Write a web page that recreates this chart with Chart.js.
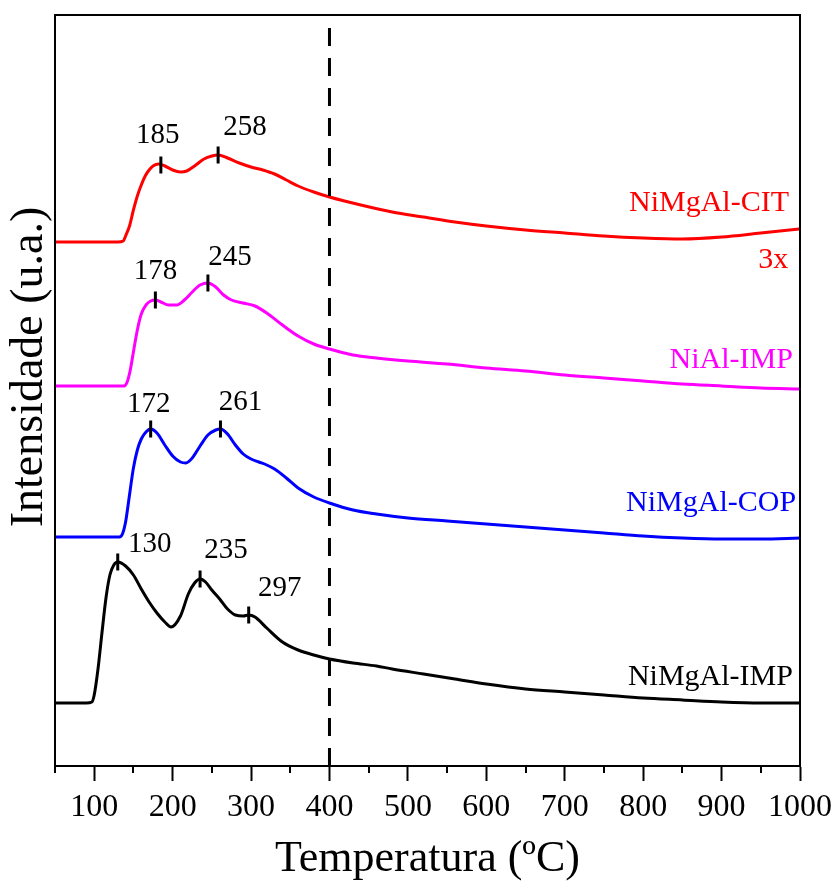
<!DOCTYPE html>
<html>
<head>
<meta charset="utf-8">
<script src="https://cdn.jsdelivr.net/npm/chart.js@4.4.1/dist/chart.umd.min.js"></script>
<style>
  html, body { margin: 0; padding: 0; background: #ffffff; }
  canvas { display: block; }
</style>
</head>
<body>
<canvas id="tpr" width="836" height="881"></canvas>
<script>
// H2-TPR profiles (intensity in arbitrary units, curves stacked with offsets)

// NiMgAl-CIT (shown 3x)
const tempCIT = [50, 100, 130, 137, 140, 145, 150, 155, 160, 165, 170, 175, 182, 190, 200, 210, 218, 228, 240, 250, 258, 270, 285, 300, 315, 330, 345, 360, 380, 400, 440, 480, 520, 560, 600, 650, 700, 750, 800, 850, 900, 950, 1000];
const intCIT  = [524, 524, 524, 525, 530, 540, 556, 570, 581, 590, 596, 600, 602, 600, 596, 594, 595, 600, 607, 610, 611, 608, 603, 599, 596, 592, 586, 580, 574, 569, 561, 554, 549, 544, 540, 536, 533, 530, 528, 527, 529, 533, 537];

// NiAl-IMP
const tempNiAl = [50, 100, 138, 142, 146, 150, 155, 160, 166, 172, 178, 185, 195, 205, 215, 225, 235, 245, 255, 265, 275, 290, 305, 320, 340, 360, 380, 400, 430, 460, 500, 550, 600, 650, 700, 750, 800, 850, 900, 950, 1000];
const intNiAl  = [380, 380, 380, 384, 396, 414, 436, 452, 461, 465, 466, 464, 461, 461, 466, 474, 481, 483, 479, 471, 466, 463, 460, 453, 441, 430, 422, 417, 411, 408, 405, 402, 398, 395, 391, 388, 385, 382, 380, 378, 377];

// NiMgAl-COP
const tempCOP = [50, 100, 132, 136, 140, 145, 150, 155, 160, 166, 172, 180, 190, 200, 210, 217, 225, 235, 245, 255, 261, 270, 280, 290, 300, 310, 320, 330, 345, 360, 380, 400, 430, 460, 500, 550, 600, 650, 700, 750, 800, 850, 900, 950, 1000];
const intCOP  = [229, 229, 229, 232, 244, 271, 298, 316, 327, 334, 337, 333, 321, 310, 304, 303, 308, 320, 331, 336, 337, 332, 321, 312, 307, 304, 301, 297, 288, 278, 269, 263, 256, 252, 248, 245, 242, 239, 236, 233, 230, 228, 227, 227, 228];

// NiMgAl-IMP
const tempIMP = [50, 90, 97, 100, 105, 110, 115, 120, 125, 130, 140, 150, 160, 170, 180, 190, 198, 210, 220, 228, 235, 242, 250, 260, 270, 280, 290, 297, 305, 320, 340, 360, 380, 400, 430, 460, 480, 520, 560, 600, 650, 700, 750, 800, 850, 900, 950, 1000];
const intIMP  = [63, 63, 64, 71, 98, 134, 168, 191, 201, 204, 200, 191, 177, 164, 153, 144, 139, 150, 172, 183, 187, 184, 176, 167, 157, 151, 150, 151, 149, 138, 124, 116, 111, 107, 103, 100, 97, 92, 87, 82, 77, 74, 71, 68, 66, 64, 63, 63];

// Reduction peak maxima (°C) and the curve intensity there
const peaksCIT = [185, 258];        const peakIntCIT  = [601, 611];
const peaksNiAl = [178, 245];       const peakIntNiAl = [466, 483];
const peaksCOP = [172, 261];        const peakIntCOP  = [337, 337];
const peaksIMP = [130, 235, 297];   const peakIntIMP  = [204, 187, 151];

// Axis ticks
const majorTicks = [100, 200, 300, 400, 500, 600, 700, 800, 900, 1000];
const minorTicks = [50, 150, 250, 350, 450, 550, 650, 750, 850, 950];

// Reference temperature marker
const markerTemp = 400;

// Series names
const seriesNames = ['NiMgAl-CIT', 'NiAl-IMP', 'NiMgAl-COP', 'NiMgAl-IMP'];
const seriesColors = ['#ff0000', '#ff00ff', '#0000ff', '#000000'];
const scaleNote = '3x';

// ---- build chart data ----
const toXY = (xs, ys) => xs.map((x, i) => ({ x: x, y: ys[i] }));

const peakGroups = [
  { t: peaksCIT, v: peakIntCIT },
  { t: peaksNiAl, v: peakIntNiAl },
  { t: peaksCOP, v: peakIntCOP },
  { t: peaksIMP, v: peakIntIMP }
];
const peakPoints = [];
peakGroups.forEach(g => g.t.forEach((t, i) => peakPoints.push({ x: t, y: g.v[i] })));

// label offsets (px) for each peak value, same order as peakPoints
const peakLabelOffsets = [
  [-3, -30], [27, -28],
  [0, -29], [22, -26],
  [-2, -25], [20, -27],
  [32, -18], [26, -29], [31, -27]
];

// series name anchors (right edge) in data units
const nameAnchors = [
  { x: 986, y: 563 },
  { x: 991, y: 406 },
  { x: 995, y: 263 },
  { x: 991, y: 89 }
];
const noteAnchor = { x: 985, y: 506 };

const curve = (label, xs, ys, color) => ({
  type: 'line',
  label: label,
  data: toXY(xs, ys),
  borderColor: color,
  borderWidth: 3,
  pointRadius: 0,
  fill: false,
  cubicInterpolationMode: 'monotone'
});

const SERIF = '"Liberation Serif", "Times New Roman", serif';

const annotations = {
  id: 'annotations',
  beforeDatasetsDraw(chart) {
    const { ctx, scales: { x } } = chart;
    const a = chart.chartArea;
    ctx.save();
    ctx.strokeStyle = '#000';
    ctx.lineWidth = 2;
    // minor ticks below the x axis
    minorTicks.forEach(v => {
      const px = Math.round(x.getPixelForValue(v));
      ctx.beginPath();
      ctx.moveTo(px, a.bottom);
      ctx.lineTo(px, a.bottom + 7);
      ctx.stroke();
    });
    ctx.restore();
  },
  afterDatasetsDraw(chart) {
    const { ctx, scales: { x, y } } = chart;
    const a = chart.chartArea;
    ctx.save();
    // frame
    ctx.strokeStyle = '#000';
    ctx.lineWidth = 2;
    ctx.strokeRect(a.left, a.top, a.right - a.left, a.bottom - a.top);

    // peak temperature labels
    ctx.fillStyle = '#000';
    ctx.font = '29px ' + SERIF;
    ctx.textAlign = 'center';
    ctx.textBaseline = 'middle';
    peakPoints.forEach((p, i) => {
      const px = x.getPixelForValue(p.x) + peakLabelOffsets[i][0];
      const py = y.getPixelForValue(p.y) + peakLabelOffsets[i][1];
      ctx.fillText(String(p.x), px, py);
    });

    // series names
    ctx.font = '30px ' + SERIF;
    ctx.textAlign = 'right';
    seriesNames.forEach((name, i) => {
      ctx.fillStyle = seriesColors[i];
      ctx.fillText(name, x.getPixelForValue(nameAnchors[i].x), y.getPixelForValue(nameAnchors[i].y));
    });
    ctx.fillStyle = seriesColors[0];
    ctx.fillText(scaleNote, x.getPixelForValue(noteAnchor.x), y.getPixelForValue(noteAnchor.y));

    // y axis title
    ctx.fillStyle = '#000';
    ctx.font = '46px ' + SERIF;
    ctx.textAlign = 'center';
    ctx.translate(30, 367);
    ctx.rotate(-Math.PI / 2);
    ctx.fillText('Intensidade (u.a.)', 0, 0);
    ctx.restore();
  }
};

new Chart(document.getElementById('tpr'), {
  data: {
    datasets: [
      {
        type: 'line',
        label: 'marker',
        data: [{ x: markerTemp, y: 0 }, { x: markerTemp, y: 751 }],
        borderColor: '#000',
        borderWidth: 3,
        borderDash: [18, 12],
        pointRadius: 0,
        fill: false
      },
      {
        type: 'scatter',
        label: 'peaks',
        data: peakPoints,
        pointStyle: 'line',
        rotation: 90,
        pointRadius: 8.5,
        pointBorderWidth: 3,
        borderColor: '#000',
        backgroundColor: '#000'
      },
      curve(seriesNames[0], tempCIT, intCIT, seriesColors[0]),
      curve(seriesNames[1], tempNiAl, intNiAl, seriesColors[1]),
      curve(seriesNames[2], tempCOP, intCOP, seriesColors[2]),
      curve(seriesNames[3], tempIMP, intIMP, seriesColors[3])
    ]
  },
  options: {
    responsive: false,
    animation: false,
    devicePixelRatio: 1,
    layout: { padding: { top: 15, right: 36, left: 0, bottom: 0 } },
    plugins: { legend: { display: false }, tooltip: { enabled: false } },
    scales: {
      x: {
        type: 'linear',
        min: 50,
        max: 1000,
        afterBuildTicks: s => { s.ticks = majorTicks.map(v => ({ value: v })); },
        afterFit: s => { s.height = 115; s.paddingRight = 0; },
        grid: { drawOnChartArea: false, drawTicks: true, tickLength: 15, tickWidth: 2, tickColor: '#000' },
        border: { display: true, color: '#000', width: 2 },
        ticks: {
          color: '#000',
          font: { family: SERIF, size: 32, lineHeight: 1 },
          padding: 11,
          maxRotation: 0,
          autoSkip: false,
          callback: v => String(v)
        },
        title: {
          display: true,
          text: 'Temperatura (ºC)',
          color: '#000',
          font: { family: SERIF, size: 44, lineHeight: 1 },
          padding: { top: 0, bottom: 0 }
        }
      },
      y: {
        type: 'linear',
        min: 0,
        max: 751,
        afterFit: s => { s.width = 55; },
        ticks: { display: false },
        grid: { display: false, drawTicks: false },
        border: { display: true, color: '#000', width: 2 }
      }
    }
  },
  plugins: [annotations]
});
</script>
</body>
</html>
